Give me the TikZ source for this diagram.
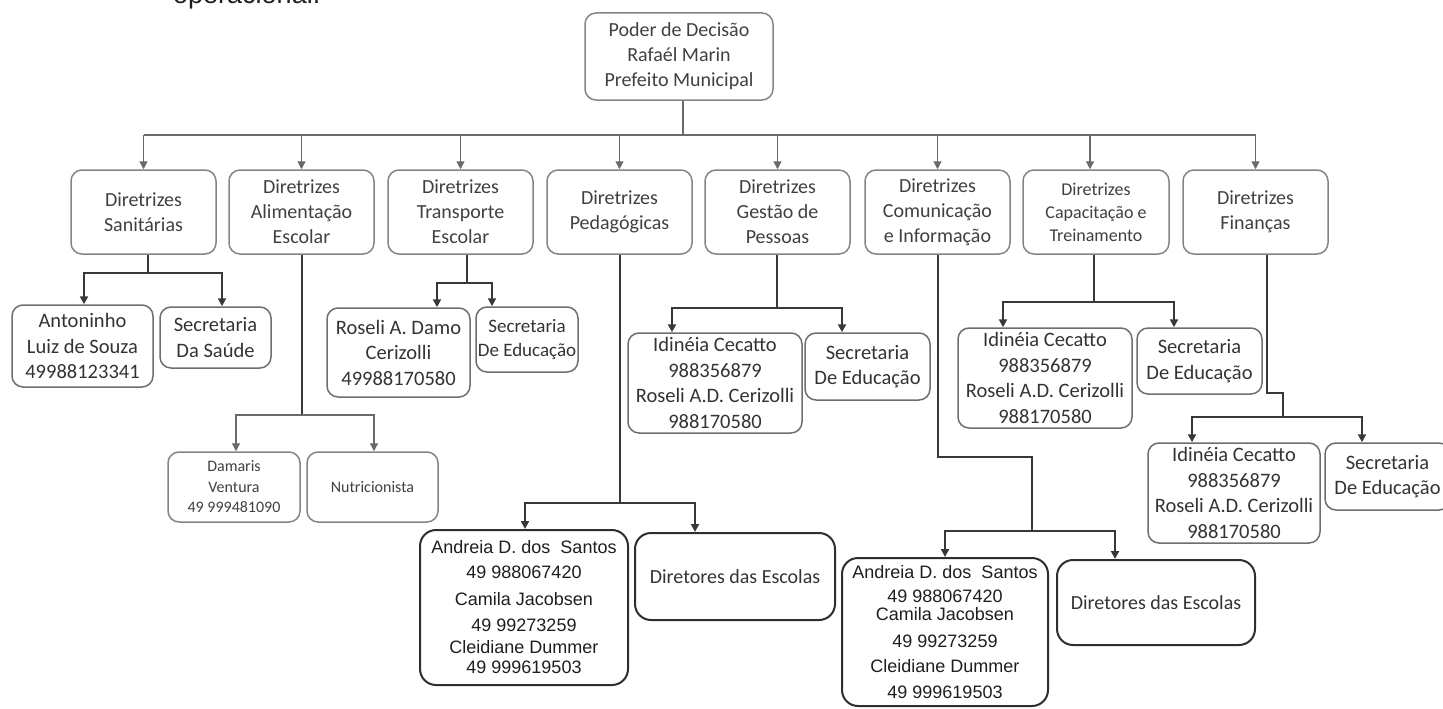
\documentclass[tikz,border=0pt]{standalone}
\usepackage{fontspec}
\setmainfont{Carlito}
\newfontfamily\arialf{Liberation Sans}
\usetikzlibrary{arrows.meta,calc}
\definecolor{cborder}{HTML}{858585}
\definecolor{ctext}{HTML}{404040}
\definecolor{cborderb}{HTML}{6E6E6E}
\definecolor{ctextb}{HTML}{333333}
\definecolor{cdark}{HTML}{2E2E2E}
\definecolor{cdarktext}{HTML}{1E1E1E}
\definecolor{cline}{HTML}{6A6A6A}
\definecolor{cdline}{HTML}{383838}
\tikzset{
  base/.style={draw, rounded corners=11pt, align=center, inner sep=0pt, line width=1.5pt},
  dbox/.style={base, draw=cborder, text=ctext, font=\fontsize{20}{25}\selectfont,
               minimum width=145pt, minimum height=84pt},
  pbox/.style={base, draw=cborderb, text=ctextb, font=\fontsize{20.5}{25.5}\selectfont},
  sbox/.style={base, draw=cborder, text=ctext, font=\fontsize{16}{20.5}\selectfont},
  abox/.style={base, rounded corners=16pt, line width=2pt, draw=cdark, text=cdarktext,
               font=\arialf\fontsize{18}{22}\selectfont},
  dirbox/.style={abox, font=\fontsize{20}{24}\selectfont, text=ctextb},
  lnk/.style={draw=cline, line width=1.3pt},
  lnkb/.style={draw=cdline, line width=2pt},
  tip/.style={-{Triangle[length=8pt,width=8pt]}}
}
\begin{document}
\begin{tikzpicture}[x=1pt,y=-1pt]
\useasboundingbox (0,0) rectangle (1443,709);

\node[anchor=base west, font=\arialf\fontsize{27}{30}\selectfont, text=cdarktext, inner sep=0pt] (op) at (173,4) {operacional.};

% top
\node[dbox, minimum width=188pt, minimum height=87pt] (top) at (679,56.5)
  {Poder de Decisão\\Rafaél Marin\\Prefeito Municipal};

% level 1
\node[dbox] (d1) at (143.5,212) {Diretrizes\\Sanitárias};
\node[dbox] (d2) at (301.5,212) {Diretrizes\\Alimentação\\Escolar};
\node[dbox] (d3) at (460.5,212) {Diretrizes\\Transporte\\Escolar};
\node[dbox] (d4) at (619.5,212) {Diretrizes\\Pedagógicas};
\node[dbox] (d5) at (777.5,212) {Diretrizes\\Gestão de\\Pessoas};
\node[dbox] (d6) at (937.5,212) {Diretrizes\\Comunicação\\e Informação};
\node[dbox, minimum width=146pt, font=\fontsize{18}{23}\selectfont] (d7) at (1096,212) {Diretrizes\\Capacitação e\\Treinamento};
\node[dbox] (d8) at (1255.5,212) {Diretrizes\\Finanças};

% level 2
\node[pbox, minimum width=141pt, minimum height=82pt] (a1) at (82.5,346) {Antoninho\\Luiz de Souza\\49988123341};
\node[pbox, minimum width=111pt, minimum height=61pt] (a2) at (215.5,337.5) {Secretaria\\Da Saúde};

\node[sbox, minimum width=132pt, minimum height=70pt] (b1) at (234,487) {Damaris\\Ventura\\49 999481090};
\node[sbox, minimum width=131pt, minimum height=70pt] (b2) at (372.5,487) {Nutricionista};

\node[pbox, minimum width=143pt, minimum height=89pt] (c1) at (398.5,352.5) {Roseli A. Damo\\Cerizolli\\49988170580};
\node[pbox, minimum width=102pt, minimum height=65pt, font=\fontsize{19}{24}\selectfont] (c2) at (527,339.5) {Secretaria\\De Educação};

\node[abox, minimum width=208pt, minimum height=155pt] (e1) at (524,607.5)
  {Andreia D. dos\ \ Santos\\[3pt]49 988067420\\[5pt]Camila Jacobsen\\[4pt]49 99273259\\Cleidiane Dummer\\[-2pt]49 999619503};
\node[dirbox, minimum width=200pt, minimum height=87pt] (e2) at (735,576.5) {Diretores das Escolas};

\node[pbox, minimum width=174pt, minimum height=100pt] (f1) at (715,383) {Idinéia Cecatto\\988356879\\Roseli A.D. Cerizolli\\988170580};
\node[pbox, minimum width=125pt, minimum height=67pt] (f2) at (867.5,366.5) {Secretaria\\De Educação};

\node[abox, minimum width=206pt, minimum height=148pt] (g1) at (945,632)
  {Andreia D. dos\ \ Santos\\[2pt]49 988067420\\[-4pt]Camila Jacobsen\\[5pt]49 99273259\\[3pt]Cleidiane Dummer\\[4pt]49 999619503};
\node[dirbox, minimum width=198pt, minimum height=85pt] (g2) at (1156,602.5) {Diretores das Escolas};

\node[pbox, minimum width=174pt, minimum height=100pt] (h1) at (1045,378) {Idinéia Cecatto\\988356879\\Roseli A.D. Cerizolli\\988170580};
\node[pbox, minimum width=125pt, minimum height=66pt] (h2) at (1199.5,361) {Secretaria\\De Educação};

\node[pbox, minimum width=172pt, minimum height=100pt] (i1) at (1234,493) {Idinéia Cecatto\\988356879\\Roseli A.D. Cerizolli\\988170580};
\node[pbox, minimum width=125pt, minimum height=67pt] (i2) at (1387.5,476.5) {Secretaria\\De Educação};

% top connectors
\coordinate (tb) at (683,135);
\draw[lnk] ([xshift=4pt]top.south) -- (tb);
\draw[lnk] (d1.north |- tb) -- (d8.north |- tb);
\foreach \n in {d1,d2,d3,d4,d5,d6,d8} \draw[lnk,tip] (\n.north |- tb) -- (\n.north);
\draw[lnk,tip] ([xshift=-6pt]d7.north |- tb) -- ([xshift=-6pt]d7.north);

% Sanitarias
\coordinate (sb) at (148,273);
\draw[lnkb] ([xshift=4.5pt]d1.south) -- (sb);
\draw[lnkb,tip] (sb) -| ([xshift=1.5pt]a1.north);
\draw[lnkb,tip] (sb) -| ([xshift=6.5pt]a2.north);

% Alimentacao
\coordinate (ab) at (302,415);
\draw[lnkb] ([xshift=0.5pt]d2.south) -- (ab);
\draw[lnk,tip] (ab) -| ([xshift=2pt]b1.north);
\draw[lnk,tip] (ab) -| ([xshift=1.5pt]b2.north);

% Transporte
\coordinate (trb) at (467,283);
\draw[lnkb] ([xshift=6.5pt]d3.south) -- (trb);
\draw[lnkb,tip] (trb) -| ([xshift=38.5pt]c1.north);
\draw[lnkb,tip] (trb) -| ([xshift=-35pt]c2.north);

% Pedagogicas
\coordinate (pb) at (620,503);
\draw[lnkb] ([xshift=0.5pt]d4.south) -- (pb);
\draw[lnkb,tip] (pb) -| ([xshift=1pt]e1.north);
\draw[lnkb,tip] (pb) -| ([xshift=-40pt]e2.north);

% Gestao
\coordinate (gb) at (777,308);
\draw[lnkb] ([xshift=-0.5pt]d5.south) -- (gb);
\draw[lnkb,tip] (gb) -| ([xshift=-43pt]f1.north);
\draw[lnkb,tip] (gb) -| ([xshift=-25.5pt]f2.north);

% Comunicacao
\coordinate (ce) at (1032,457);
\coordinate (cb) at (1032,531);
\draw[lnkb] (d6.south) |- (ce) -- (cb);
\draw[lnkb,tip] (cb) -| (g1.north);
\draw[lnkb,tip] (cb) -| ([xshift=-41pt]g2.north);

% Capacitacao
\coordinate (kb) at (1094,302);
\draw[lnkb] ([xshift=-2pt]d7.south) -- (kb);
\draw[lnkb,tip] (kb) -| ([xshift=-42pt]h1.north);
\draw[lnkb,tip] (kb) -| ([xshift=-25.5pt]h2.north);

% Financas
\coordinate (fe) at (1283,393);
\coordinate (fb) at (1283,417);
\draw[lnkb] ([xshift=11.5pt]d8.south) |- (fe) -- (fb);
\draw[lnkb,tip] (fb) -| ([xshift=-42pt]i1.north);
\draw[lnkb,tip] (fb) -| ([xshift=-25.5pt]i2.north);
\end{tikzpicture}
\end{document}
